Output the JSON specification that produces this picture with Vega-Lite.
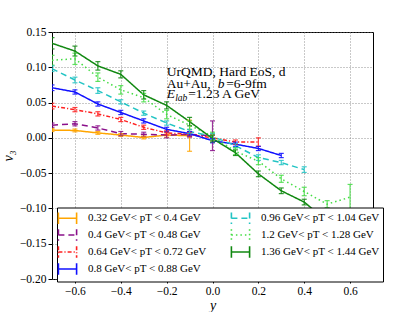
{
  "$schema": "https://vega.github.io/schema/vega-lite/v6.json",
  "autosize": "none",
  "width": 321,
  "height": 247,
  "padding": {"left": 52, "top": 32, "right": 42, "bottom": 33},
  "background": "white",
  "config": {
    "view": {"stroke": "black", "strokeWidth": 1},
    "font": "Liberation Serif",
    "axis": {
      "labelFont": "Liberation Serif",
      "labelFontSize": 11.5,
      "labelColor": "black",
      "labelOverlap": false,
      "labelFlush": false,
      "titleFont": "Liberation Serif",
      "titleFontWeight": "normal",
      "titleFontStyle": "italic",
      "titleFontSize": 14,
      "titleColor": "black",
      "domain": false,
      "tickColor": "black",
      "tickSize": 4,
      "labelPadding": 2,
      "gridColor": "#777777",
      "gridDash": [1, 2],
      "gridWidth": 0.8,
      "gridOpacity": 1
    },
    "legend": {
      "symbolType": "M-1.4,-0.9L-1.4,0.9M-1.4,0L1.4,0M1.4,-0.9L1.4,0.9",
      "symbolSize": 169,
      "symbolStrokeWidth": 1.6,
      "symbolFillColor": "transparent",
      "labelFont": "Liberation Serif",
      "labelFontSize": 11,
      "labelColor": "black",
      "labelLimit": 300,
      "labelOffset": 13
    }
  },
  "data": {"values": [
    {"s": "0.32 GeV< pT < 0.4 GeV", "x": -0.7, "v": 0.011, "e": 0.002},
    {"s": "0.32 GeV< pT < 0.4 GeV", "x": -0.6, "v": 0.0105, "e": 0.002},
    {"s": "0.32 GeV< pT < 0.4 GeV", "x": -0.5, "v": 0.007, "e": 0.002},
    {"s": "0.32 GeV< pT < 0.4 GeV", "x": -0.4, "v": 0.004, "e": 0.002},
    {"s": "0.32 GeV< pT < 0.4 GeV", "x": -0.3, "v": 0.0005, "e": 0.002},
    {"s": "0.32 GeV< pT < 0.4 GeV", "x": -0.2, "v": 0.004, "e": 0.003},
    {"s": "0.32 GeV< pT < 0.4 GeV", "x": -0.1, "v": 0.003, "e": 0.022},

    {"s": "0.4 GeV< pT < 0.48 GeV", "x": -0.7, "v": 0.018, "e": 0.003},
    {"s": "0.4 GeV< pT < 0.48 GeV", "x": -0.6, "v": 0.020, "e": 0.003},
    {"s": "0.4 GeV< pT < 0.48 GeV", "x": -0.5, "v": 0.014, "e": 0.003},
    {"s": "0.4 GeV< pT < 0.48 GeV", "x": -0.4, "v": 0.006, "e": 0.003},
    {"s": "0.4 GeV< pT < 0.48 GeV", "x": -0.3, "v": 0.005, "e": 0.003},
    {"s": "0.4 GeV< pT < 0.48 GeV", "x": -0.2, "v": 0.004, "e": 0.004},
    {"s": "0.4 GeV< pT < 0.48 GeV", "x": -0.1, "v": 0.005, "e": 0.004},
    {"s": "0.4 GeV< pT < 0.48 GeV", "x": 0.0, "v": 0.003, "e": 0.021},

    {"s": "0.64 GeV< pT < 0.72 GeV", "x": -0.7, "v": 0.045, "e": 0.004},
    {"s": "0.64 GeV< pT < 0.72 GeV", "x": -0.6, "v": 0.040, "e": 0.003},
    {"s": "0.64 GeV< pT < 0.72 GeV", "x": -0.5, "v": 0.034, "e": 0.003},
    {"s": "0.64 GeV< pT < 0.72 GeV", "x": -0.4, "v": 0.026, "e": 0.003},
    {"s": "0.64 GeV< pT < 0.72 GeV", "x": -0.3, "v": 0.015, "e": 0.003},
    {"s": "0.64 GeV< pT < 0.72 GeV", "x": -0.2, "v": 0.007, "e": 0.003},
    {"s": "0.64 GeV< pT < 0.72 GeV", "x": -0.1, "v": 0.005, "e": 0.003},
    {"s": "0.64 GeV< pT < 0.72 GeV", "x": 0.0, "v": 0.0, "e": 0.004},
    {"s": "0.64 GeV< pT < 0.72 GeV", "x": 0.1, "v": -0.006, "e": 0.003},
    {"s": "0.64 GeV< pT < 0.72 GeV", "x": 0.2, "v": -0.006, "e": 0.006},

    {"s": "0.8 GeV< pT < 0.88 GeV", "x": -0.7, "v": 0.071, "e": 0.004},
    {"s": "0.8 GeV< pT < 0.88 GeV", "x": -0.6, "v": 0.065, "e": 0.003},
    {"s": "0.8 GeV< pT < 0.88 GeV", "x": -0.5, "v": 0.048, "e": 0.003},
    {"s": "0.8 GeV< pT < 0.88 GeV", "x": -0.4, "v": 0.036, "e": 0.003},
    {"s": "0.8 GeV< pT < 0.88 GeV", "x": -0.3, "v": 0.024, "e": 0.003},
    {"s": "0.8 GeV< pT < 0.88 GeV", "x": -0.2, "v": 0.012, "e": 0.003},
    {"s": "0.8 GeV< pT < 0.88 GeV", "x": -0.1, "v": 0.006, "e": 0.003},
    {"s": "0.8 GeV< pT < 0.88 GeV", "x": 0.0, "v": -0.004, "e": 0.003},
    {"s": "0.8 GeV< pT < 0.88 GeV", "x": 0.1, "v": -0.009, "e": 0.003},
    {"s": "0.8 GeV< pT < 0.88 GeV", "x": 0.2, "v": -0.015, "e": 0.003},
    {"s": "0.8 GeV< pT < 0.88 GeV", "x": 0.3, "v": -0.025, "e": 0.003},

    {"s": "0.96 GeV< pT < 1.04 GeV", "x": -0.7, "v": 0.098, "e": 0.004},
    {"s": "0.96 GeV< pT < 1.04 GeV", "x": -0.6, "v": 0.082, "e": 0.004},
    {"s": "0.96 GeV< pT < 1.04 GeV", "x": -0.5, "v": 0.067, "e": 0.004},
    {"s": "0.96 GeV< pT < 1.04 GeV", "x": -0.4, "v": 0.051, "e": 0.003},
    {"s": "0.96 GeV< pT < 1.04 GeV", "x": -0.3, "v": 0.035, "e": 0.003},
    {"s": "0.96 GeV< pT < 1.04 GeV", "x": -0.2, "v": 0.021, "e": 0.003},
    {"s": "0.96 GeV< pT < 1.04 GeV", "x": -0.1, "v": 0.009, "e": 0.003},
    {"s": "0.96 GeV< pT < 1.04 GeV", "x": 0.0, "v": 0.002, "e": 0.004},
    {"s": "0.96 GeV< pT < 1.04 GeV", "x": 0.1, "v": -0.011, "e": 0.003},
    {"s": "0.96 GeV< pT < 1.04 GeV", "x": 0.2, "v": -0.028, "e": 0.004},
    {"s": "0.96 GeV< pT < 1.04 GeV", "x": 0.3, "v": -0.035, "e": 0.003},
    {"s": "0.96 GeV< pT < 1.04 GeV", "x": 0.4, "v": -0.045, "e": 0.004},

    {"s": "1.2 GeV< pT < 1.28 GeV", "x": -0.7, "v": 0.110, "e": 0.007},
    {"s": "1.2 GeV< pT < 1.28 GeV", "x": -0.6, "v": 0.112, "e": 0.008},
    {"s": "1.2 GeV< pT < 1.28 GeV", "x": -0.5, "v": 0.086, "e": 0.006},
    {"s": "1.2 GeV< pT < 1.28 GeV", "x": -0.4, "v": 0.068, "e": 0.006},
    {"s": "1.2 GeV< pT < 1.28 GeV", "x": -0.3, "v": 0.057, "e": 0.006},
    {"s": "1.2 GeV< pT < 1.28 GeV", "x": -0.2, "v": 0.033, "e": 0.006},
    {"s": "1.2 GeV< pT < 1.28 GeV", "x": -0.1, "v": 0.018, "e": 0.006},
    {"s": "1.2 GeV< pT < 1.28 GeV", "x": 0.0, "v": 0.002, "e": 0.006},
    {"s": "1.2 GeV< pT < 1.28 GeV", "x": 0.1, "v": -0.019, "e": 0.005},
    {"s": "1.2 GeV< pT < 1.28 GeV", "x": 0.2, "v": -0.033, "e": 0.005},
    {"s": "1.2 GeV< pT < 1.28 GeV", "x": 0.3, "v": -0.058, "e": 0.005},
    {"s": "1.2 GeV< pT < 1.28 GeV", "x": 0.4, "v": -0.076, "e": 0.006},
    {"s": "1.2 GeV< pT < 1.28 GeV", "x": 0.5, "v": -0.094, "e": 0.005},
    {"s": "1.2 GeV< pT < 1.28 GeV", "x": 0.6, "v": -0.084, "e": 0.018},

    {"s": "1.36 GeV< pT < 1.44 GeV", "x": -0.7, "v": 0.134, "e": 0.008},
    {"s": "1.36 GeV< pT < 1.44 GeV", "x": -0.6, "v": 0.123, "e": 0.007},
    {"s": "1.36 GeV< pT < 1.44 GeV", "x": -0.5, "v": 0.102, "e": 0.006},
    {"s": "1.36 GeV< pT < 1.44 GeV", "x": -0.4, "v": 0.090, "e": 0.005},
    {"s": "1.36 GeV< pT < 1.44 GeV", "x": -0.3, "v": 0.061, "e": 0.006},
    {"s": "1.36 GeV< pT < 1.44 GeV", "x": -0.2, "v": 0.046, "e": 0.005},
    {"s": "1.36 GeV< pT < 1.44 GeV", "x": -0.1, "v": 0.023, "e": 0.006},
    {"s": "1.36 GeV< pT < 1.44 GeV", "x": 0.0, "v": -0.001, "e": 0.005},
    {"s": "1.36 GeV< pT < 1.44 GeV", "x": 0.1, "v": -0.021, "e": 0.004},
    {"s": "1.36 GeV< pT < 1.44 GeV", "x": 0.2, "v": -0.051, "e": 0.004},
    {"s": "1.36 GeV< pT < 1.44 GeV", "x": 0.3, "v": -0.075, "e": 0.004},
    {"s": "1.36 GeV< pT < 1.44 GeV", "x": 0.4, "v": -0.091, "e": 0.004},
    {"s": "1.36 GeV< pT < 1.44 GeV", "x": 0.5, "v": -0.118, "e": 0.005},
    {"s": "1.36 GeV< pT < 1.44 GeV", "x": 0.6, "v": -0.14, "e": 0.006}
  ]},
  "encoding": {
    "x": {"field": "x", "type": "quantitative", "title": "y",
          "scale": {"domain": [-0.7, 0.7], "nice": false, "zero": false},
          "axis": {"values": [-0.6, -0.4, -0.2, 0.0, 0.2, 0.4, 0.6], "format": ".1f", "titlePadding": 2, "grid": true, "labelOverlap": false}},
    "y": {"field": "v", "type": "quantitative", "title": "v₃",
          "scale": {"domain": [-0.2, 0.15], "nice": false, "zero": false},
          "axis": {"values": [-0.2, -0.15, -0.1, -0.05, 0.0, 0.05, 0.1, 0.15], "format": ".2f", "titlePadding": 4, "grid": true, "labelOverlap": false}}
  },
  "layer": [
    {
      "mark": {"type": "line", "clip": true, "strokeWidth": 1.5},
      "encoding": {
        "color": {"field": "s", "type": "nominal",
                  "scale": {
                    "domain": ["0.32 GeV< pT < 0.4 GeV", "0.4 GeV< pT < 0.48 GeV", "0.64 GeV< pT < 0.72 GeV", "0.8 GeV< pT < 0.88 GeV", "0.96 GeV< pT < 1.04 GeV", "1.2 GeV< pT < 1.28 GeV", "1.36 GeV< pT < 1.44 GeV"],
                    "range": ["#FFA500", "#8B108B", "#FF2020", "#1010FF", "#22C4C4", "#44DD44", "#108810"]},
                  "legend": {"title": null, "orient": "none", "legendX": 5, "legendY": 175.5, "columns": 2, "columnPadding": 21, "rowPadding": -5, "padding": 3, "fillColor": "white", "strokeColor": "black", "zindex": 2}},
        "strokeDash": {"field": "s", "type": "nominal",
                  "scale": {
                    "domain": ["0.32 GeV< pT < 0.4 GeV", "0.4 GeV< pT < 0.48 GeV", "0.64 GeV< pT < 0.72 GeV", "0.8 GeV< pT < 0.88 GeV", "0.96 GeV< pT < 1.04 GeV", "1.2 GeV< pT < 1.28 GeV", "1.36 GeV< pT < 1.44 GeV"],
                    "range": [[1, 0], [6, 4], [4, 2, 1.2, 2], [1, 0], [6, 4], [1.5, 3], [1, 0]]},
                  "legend": {"title": null, "orient": "none", "legendX": 5, "legendY": 175.5, "columns": 2, "columnPadding": 21, "rowPadding": -5, "padding": 3, "fillColor": "white", "strokeColor": "black", "zindex": 2}}
      }
    },
    {
      "mark": {"type": "errorbar", "ticks": true, "size": 5, "thickness": 1.2, "clip": true, "opacity": 0.85},
      "encoding": {
        "yError": {"field": "e"},
        "color": {"field": "s", "type": "nominal", "legend": null}
      }
    },
    {
      "data": {"values": [
        {"x": -0.2, "v": 0.0935, "t": "UrQMD, Hard EoS, d"},
        {"x": -0.2, "v": 0.077, "t": "Au+Au,"}
      ]},
      "mark": {"type": "text", "align": "left", "baseline": "middle", "font": "Liberation Serif", "fontSize": 13.5, "color": "black"},
      "encoding": {"text": {"field": "t"}}
    },
    {
      "data": {"values": [{"x": -0.2, "v": 0.077, "t": "b"}]},
      "mark": {"type": "text", "align": "left", "baseline": "middle", "font": "Liberation Serif", "fontSize": 13.5, "fontStyle": "italic", "color": "black", "dx": 51},
      "encoding": {"text": {"field": "t"}}
    },
    {
      "data": {"values": [{"x": -0.2, "v": 0.077, "t": "=6-9fm"}]},
      "mark": {"type": "text", "align": "left", "baseline": "middle", "font": "Liberation Serif", "fontSize": 13.5, "color": "black", "dx": 59.5},
      "encoding": {"text": {"field": "t"}}
    },
    {
      "data": {"values": [{"x": -0.2, "v": 0.0615, "t": "E"}]},
      "mark": {"type": "text", "align": "left", "baseline": "middle", "font": "Liberation Serif", "fontSize": 13.5, "fontStyle": "italic", "color": "black"},
      "encoding": {"text": {"field": "t"}}
    },
    {
      "data": {"values": [{"x": -0.2, "v": 0.0615, "t": "lab"}]},
      "mark": {"type": "text", "align": "left", "baseline": "middle", "font": "Liberation Serif", "fontSize": 9.5, "fontStyle": "italic", "color": "black", "dx": 8.5, "dy": 3.5},
      "encoding": {"text": {"field": "t"}}
    },
    {
      "data": {"values": [{"x": -0.2, "v": 0.0615, "t": "=1.23 A GeV"}]},
      "mark": {"type": "text", "align": "left", "baseline": "middle", "font": "Liberation Serif", "fontSize": 13.5, "color": "black", "dx": 21.5},
      "encoding": {"text": {"field": "t"}}
    }
  ]
}
